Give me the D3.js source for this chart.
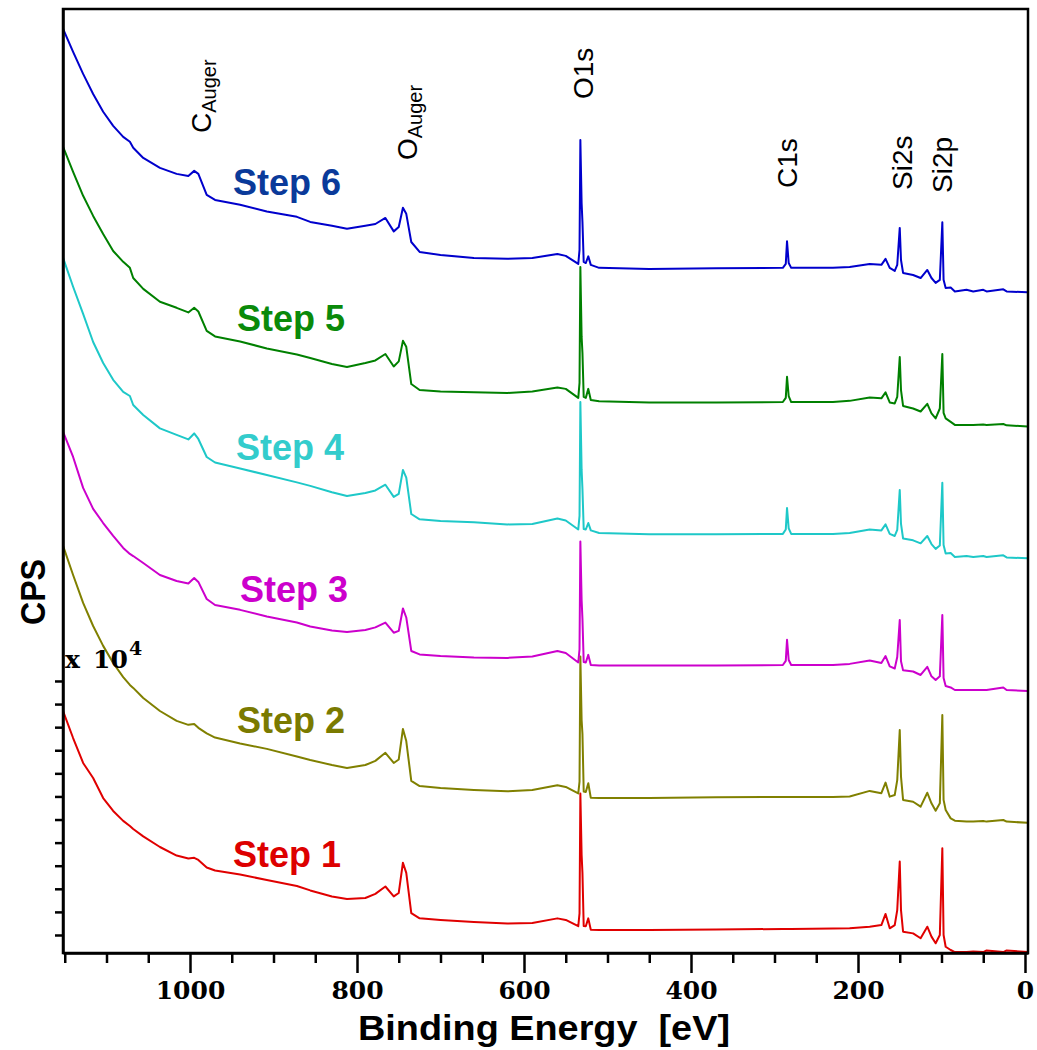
<!DOCTYPE html>
<html>
<head>
<meta charset="utf-8">
<script src="https://cdn.jsdelivr.net/npm/d3@7"></script>
<style>
  html, body { margin: 0; padding: 0; background: #ffffff; }
  svg { display: block; }
</style>
</head>
<body>
<svg id="chart" width="1037" height="1050"></svg>
<script>
// XPS survey spectra, binding energy in eV (shared sampling grid)
const bindingEnergy = [1152, 1140, 1128, 1116, 1104, 1092, 1080, 1072, 1068, 1056,
  1036, 1016, 1002, 995, 990, 980, 970, 940, 908, 872,
  856, 830, 812, 790, 778, 766, 756, 750, 745, 741,
  735, 725, 700, 660, 620, 590, 560, 550, 535, 533.5,
  532.5, 531, 530, 528.5, 526, 523, 520, 510, 450, 370,
  290, 286.5, 285, 283, 280, 230, 210, 186, 172, 167,
  162, 156, 153, 150, 148.5, 146, 134, 125, 117, 112,
  107, 102, 99, 97.5, 95, 89, 84, 70, 62, 50,
  46, 26, 22, -3];

// Counts (x 10^4 CPS) for each treatment step
const step1Counts = [10.70, 9.53, 8.45, 7.80, 6.93, 6.37, 5.94, 5.72, 5.59, 5.27,
  4.81, 4.44, 4.31, 4.34, 4.25, 3.92, 3.79, 3.62, 3.38, 3.12,
  2.93, 2.67, 2.56, 2.60, 2.78, 3.10, 2.67, 2.82, 4.13, 3.69,
  1.95, 1.72, 1.65, 1.56, 1.50, 1.52, 1.72, 1.65, 1.38, 1.94,
  7.13, 4.47, 3.69, 1.39, 1.38, 1.72, 1.23, 1.22, 1.22, 1.24,
  1.26, 1.26, 1.26, 1.26, 1.26, 1.28, 1.29, 1.36, 1.43, 1.91,
  1.29, 1.43, 2.08, 4.18, 2.08, 1.14, 1.07, 0.86, 1.36, 0.93,
  0.64, 1.00, 4.76, 1.00, 0.49, 0.35, 0.26, 0.26, 0.29, 0.26,
  0.33, 0.26, 0.33, 0.26];

const step2Counts = [17.85, 16.59, 15.38, 14.38, 13.52, 12.78, 12.17, 11.83, 11.70, 11.26,
  10.70, 10.27, 10.10, 10.14, 9.97, 9.73, 9.55, 9.29, 9.06, 8.73,
  8.58, 8.36, 8.23, 8.36, 8.54, 8.89, 8.45, 8.60, 9.92, 9.40,
  7.67, 7.45, 7.37, 7.28, 7.22, 7.28, 7.48, 7.41, 7.13, 7.64,
  13.06, 10.31, 9.71, 7.21, 7.19, 7.57, 6.94, 6.93, 6.93, 6.96,
  6.98, 6.98, 6.98, 6.98, 6.98, 6.98, 7.00, 7.24, 7.14, 7.60,
  6.99, 7.06, 7.71, 9.88, 7.86, 6.85, 6.77, 6.56, 7.16, 6.70,
  6.38, 6.70, 10.53, 6.85, 6.41, 6.05, 5.95, 5.91, 5.91, 5.94,
  5.91, 5.98, 5.91, 5.86];

const step3Counts = [22.79, 21.70, 20.36, 19.45, 18.84, 18.28, 17.76, 17.50, 17.41, 17.11,
  16.59, 16.33, 16.22, 16.46, 16.29, 15.55, 15.29, 15.08, 14.79, 14.53,
  14.36, 14.19, 14.12, 14.21, 14.32, 14.53, 14.09, 14.17, 15.14, 14.75,
  13.30, 13.15, 13.08, 13.02, 13.00, 13.06, 13.30, 13.21, 12.80, 13.37,
  18.04, 15.51, 14.69, 12.82, 12.80, 13.13, 12.69, 12.67, 12.67, 12.67,
  12.69, 12.87, 13.78, 12.91, 12.69, 12.69, 12.74, 12.89, 12.78, 13.08,
  12.63, 12.54, 13.04, 14.64, 12.85, 12.46, 12.41, 12.26, 12.61, 12.20,
  12.04, 12.20, 14.86, 12.13, 11.78, 11.72, 11.61, 11.61, 11.61, 11.61,
  11.61, 11.72, 11.61, 11.57];

const step4Counts = [30.32, 29.07, 27.90, 26.68, 25.77, 25.04, 24.52, 24.34, 23.95, 23.52,
  22.94, 22.66, 22.46, 22.72, 22.48, 21.70, 21.46, 21.20, 20.92, 20.60,
  20.45, 20.17, 20.01, 20.14, 20.25, 20.50, 19.97, 20.10, 21.14, 20.81,
  19.23, 19.00, 18.93, 18.87, 18.78, 18.80, 19.04, 18.95, 18.56, 19.15,
  24.08, 21.14, 20.32, 18.58, 18.56, 18.84, 18.52, 18.41, 18.35, 18.35,
  18.37, 18.56, 19.49, 18.61, 18.37, 18.37, 18.41, 18.56, 18.52, 18.78,
  18.37, 18.28, 18.54, 20.27, 18.80, 18.17, 18.09, 17.96, 18.28, 17.93,
  17.72, 17.87, 20.58, 17.89, 17.52, 17.54, 17.37, 17.41, 17.37, 17.41,
  17.37, 17.44, 17.35, 17.31];

const step5Counts = [35.13, 34.05, 33.01, 32.14, 31.36, 30.62, 30.15, 29.89, 29.45, 28.98,
  28.42, 28.16, 27.96, 28.16, 28.00, 27.16, 26.92, 26.70, 26.40, 26.14,
  25.99, 25.73, 25.60, 25.77, 25.88, 26.16, 25.62, 25.84, 26.73, 26.47,
  24.86, 24.60, 24.54, 24.50, 24.47, 24.54, 24.71, 24.65, 24.26, 24.91,
  29.93, 26.90, 26.21, 24.30, 24.26, 24.65, 24.17, 24.11, 24.06, 24.06,
  24.08, 24.26, 25.17, 24.34, 24.08, 24.08, 24.13, 24.28, 24.24, 24.50,
  24.06, 24.02, 24.30, 26.03, 24.60, 23.91, 23.80, 23.67, 24.00, 23.59,
  23.37, 23.80, 26.16, 23.61, 23.37, 23.22, 23.09, 23.09, 23.09, 23.11,
  23.09, 23.13, 23.07, 23.02];

const step6Counts = [40.24, 39.24, 38.29, 37.42, 36.65, 36.04, 35.56, 35.35, 35.09, 34.65,
  34.22, 33.96, 33.87, 34.09, 33.96, 33.05, 32.83, 32.62, 32.33, 32.10,
  31.88, 31.71, 31.58, 31.71, 31.79, 32.05, 31.47, 31.66, 32.49, 32.23,
  31.01, 30.58, 30.45, 30.32, 30.28, 30.32, 30.49, 30.41, 30.06, 30.67,
  35.43, 32.70, 31.88, 30.15, 30.10, 30.39, 30.02, 29.89, 29.84, 29.87,
  29.89, 30.06, 31.04, 30.10, 29.89, 29.89, 29.93, 30.06, 30.02, 30.28,
  29.89, 29.76, 30.02, 31.62, 30.23, 29.67, 29.58, 29.45, 29.80, 29.45,
  29.24, 29.37, 31.86, 29.37, 29.02, 29.04, 28.87, 28.94, 28.87, 28.94,
  28.87, 28.96, 28.87, 28.83];

const stepNames = ["Step 1", "Step 2", "Step 3", "Step 4", "Step 5", "Step 6"];

// Axis ticks
const energyMajorTicks = [1000, 800, 600, 400, 200, 0];
const energyMinorTicks = [1150, 1100, 1050, 950, 900, 850, 750, 700, 650,
  550, 500, 450, 350, 300, 250, 150, 100, 50];
const cpsTicks = [1, 2, 3, 4, 5, 6, 7, 8, 9, 10, 11, 12];

// Peak assignments
const peakNames = ["C", "O", "O1s", "C1s", "Si2s", "Si2p"];
const peakSubscripts = ["Auger", "Auger", "", "", "", ""];
const peakEnergies = [990, 745, 532, 285, 150, 99];

// ---- styling and layout ----
const lineColors  = ["#e00000", "#808000", "#cc00cc", "#1ec8c8", "#008000", "#0000cc"];
const labelColors = ["#dd0000", "#7a7a00", "#cc00cc", "#33cccc", "#0a8a0a", "#0a3a9a"];
const stepLabelPos = [[233, 867], [237, 733], [240, 602], [236, 460], [237, 331], [233, 195]];
const peakLabelPos = [[13, 133], [14, 160], [12, 99], [10, 188], [12, 190], [10, 193]];

const serifFont = "'DejaVu Serif', 'Liberation Serif', serif";
const sansFont = "'Liberation Sans', Arial, sans-serif";

const plot = { left: 63, right: 1028, top: 9, bottom: 953 };

const svg = d3.select("#chart");

const x = d3.scaleLinear().domain([1152.1, -3.6]).range([plot.left, plot.right]);
const y = d3.scaleLinear().domain([0.22, 41.1]).range([plot.bottom, plot.top]);

svg.append("defs").append("clipPath").attr("id", "plot-clip")
  .append("rect")
  .attr("x", plot.left).attr("y", plot.top)
  .attr("width", plot.right - plot.left).attr("height", plot.bottom - plot.top);

// Spectra
const series = [step1Counts, step2Counts, step3Counts, step4Counts, step5Counts, step6Counts];
const line = d3.line().x(d => x(d[0])).y(d => y(d[1]));

svg.append("g").attr("clip-path", "url(#plot-clip)")
  .selectAll("path")
  .data(series)
  .join("path")
  .attr("d", d => line(d3.zip(bindingEnergy, d)))
  .attr("fill", "none")
  .attr("stroke", (d, i) => lineColors[i])
  .attr("stroke-width", 2)
  .attr("stroke-linejoin", "round");

// Frame
svg.append("rect")
  .attr("x", plot.left).attr("y", plot.top)
  .attr("width", plot.right - plot.left).attr("height", plot.bottom - plot.top)
  .attr("fill", "none").attr("stroke", "#000").attr("stroke-width", 2.5);

// Bottom axis: major ticks with labels, minor ticks without
const xMajor = svg.append("g")
  .attr("transform", `translate(0,${plot.bottom})`)
  .call(d3.axisBottom(x).tickValues(energyMajorTicks).tickSize(20).tickSizeOuter(0).tickPadding(8).tickFormat(d3.format("d")));
xMajor.select(".domain").attr("stroke-width", 2.5);
xMajor.selectAll(".tick line").attr("stroke-width", 2.5);
xMajor.selectAll(".tick text")
  .attr("font-family", serifFont)
  .attr("font-weight", "bold")
  .attr("font-size", 25)
  .attr("fill", "#000");

const xMinor = svg.append("g")
  .attr("transform", `translate(0,${plot.bottom})`)
  .call(d3.axisBottom(x).tickValues(energyMinorTicks).tickSize(10).tickSizeOuter(0).tickFormat(""));
xMinor.select(".domain").remove();
xMinor.selectAll(".tick line").attr("stroke-width", 2.5);

// Left axis: unlabelled count ticks
const yAxis = svg.append("g")
  .attr("transform", `translate(${plot.left},0)`)
  .call(d3.axisLeft(y).tickValues(cpsTicks).tickSize(8).tickSizeOuter(0).tickFormat(""));
yAxis.select(".domain").attr("stroke-width", 2.5);
yAxis.selectAll(".tick line").attr("stroke-width", 2.5);

// Multiplier note on the count axis
const mult = svg.append("text")
  .attr("y", 668)
  .attr("font-family", serifFont)
  .attr("font-weight", "bold")
  .attr("font-size", 25)
  .attr("fill", "#000");
mult.append("tspan").attr("x", 65).text("x");
mult.append("tspan").attr("x", 93).text("10");
mult.append("tspan").attr("x", 129).attr("dy", -13).attr("font-size", 19).text("4");

// Axis titles
svg.append("text")
  .attr("x", 544).attr("y", 1040)
  .attr("text-anchor", "middle")
  .attr("font-family", sansFont)
  .attr("font-weight", "bold")
  .attr("font-size", 35)
  .attr("textLength", 372)
  .attr("lengthAdjust", "spacingAndGlyphs")
  .attr("fill", "#000")
  .attr("xml:space", "preserve")
  .text("Binding Energy  [eV]");

svg.append("text")
  .attr("transform", "translate(45,592) rotate(-90)")
  .attr("text-anchor", "middle")
  .attr("font-family", sansFont)
  .attr("font-weight", "bold")
  .attr("font-size", 35)
  .attr("textLength", 66)
  .attr("lengthAdjust", "spacingAndGlyphs")
  .attr("fill", "#000")
  .text("CPS");

// Step labels
svg.append("g").selectAll("text")
  .data(stepNames)
  .join("text")
  .attr("x", (d, i) => stepLabelPos[i][0])
  .attr("y", (d, i) => stepLabelPos[i][1])
  .attr("font-family", sansFont)
  .attr("font-weight", "bold")
  .attr("font-size", 36)
  .attr("fill", (d, i) => labelColors[i])
  .text(d => d);

// Peak assignment labels (vertical)
const peaks = svg.append("g").selectAll("text")
  .data(peakNames)
  .join("text")
  .attr("transform", (d, i) => `translate(${x(peakEnergies[i]) + peakLabelPos[i][0]},${peakLabelPos[i][1]}) rotate(-90)`)
  .attr("font-family", sansFont)
  .attr("font-size", 28)
  .attr("fill", "#000");
peaks.append("tspan").text(d => d);
peaks.each(function (d, i) {
  if (peakSubscripts[i] !== "") {
    d3.select(this).append("tspan")
      .attr("dy", 5)
      .attr("font-size", 20)
      .text(peakSubscripts[i]);
  }
});
</script>
</body>
</html>
